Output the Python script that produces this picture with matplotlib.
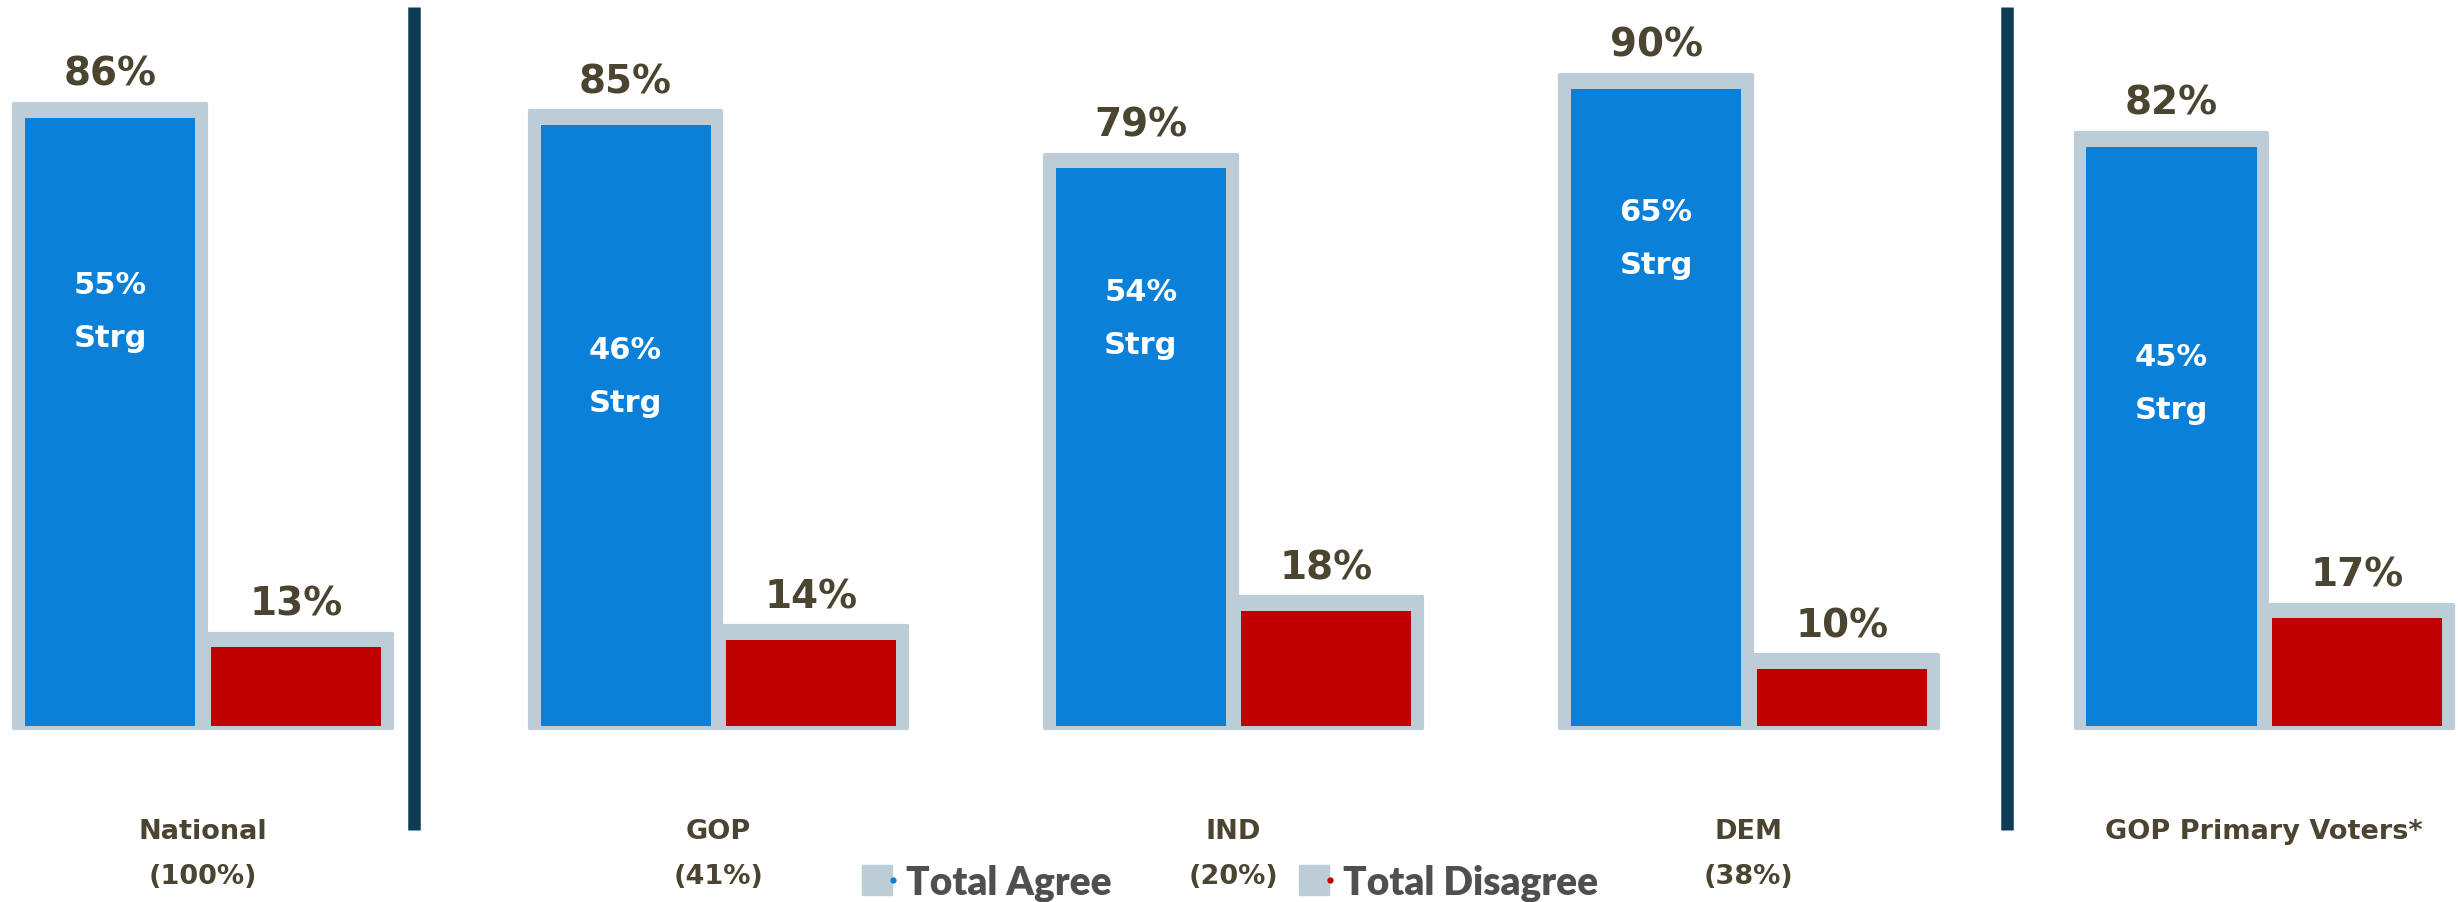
import matplotlib.pyplot as plt
from matplotlib.lines import Line2D
from matplotlib.legend_handler import HandlerTuple
import numpy as np

# Data
groups = ['National\n(100%)', 'GOP\n(41%)', 'IND\n(20%)', 'DEM\n(38%)', 'GOP Primary Voters*']
agree = [86, 85, 79, 90, 82]
disagree = [13, 14, 18, 10, 17]
strong_agree = [55, 46, 54, 65, 45]
dividers = [0.41, 3.5]

# Colors
blue = '#0b80d9'
red = '#c00000'
frame = '#bccdd8'
navy = '#0d3b56'
label_col = '#4a4430'

x = np.arange(len(groups))
off = 0.18
w_out = 0.372
w_in = 0.33
top_pad = 1.9
bot_pad = 0.3

fig = plt.figure(figsize=(24.58, 9.03), dpi=100)
ax = fig.add_axes([0, 0, 1, 1])
ax.set_xlim(-0.394, 4.376)
ax.set_ylim(-23.97, 100.43)
ax.axis('off')

# gray frames behind (slightly rounded corners)
ax.bar(x - off, agree, width=w_out, color=frame, edgecolor=frame, linewidth=3,
       joinstyle='round', zorder=1)
ax.bar(x + off, disagree, width=w_out, color=frame, edgecolor=frame, linewidth=3,
       joinstyle='round', zorder=1)
# colored inner bars
ax.bar(x - off, np.array(agree) - top_pad - bot_pad, bottom=bot_pad, width=w_in, color=blue, zorder=2)
ax.bar(x + off, np.array(disagree) - top_pad - bot_pad, bottom=bot_pad, width=w_in, color=red, zorder=2)

for i in range(len(groups)):
    ax.text(x[i] - off, agree[i] + 2.6, f'{agree[i]}%', ha='center', va='baseline',
            fontsize=28, fontweight='bold', color=label_col, zorder=3)
    ax.text(x[i] + off, disagree[i] + 2.6, f'{disagree[i]}%', ha='center', va='baseline',
            fontsize=28, fontweight='bold', color=label_col, zorder=3)
    ax.text(x[i] - off, strong_agree[i] + 2.5, f'{strong_agree[i]}%\nStrg', ha='center', va='center',
            fontsize=22, fontweight='bold', color='white', linespacing=2.05, zorder=3)
    ax.text(x[i], -12.4, groups[i], ha='center', va='top', fontsize=19.5, fontweight='bold',
            color=label_col, linespacing=1.95)

for d in dividers:
    ax.plot([d, d], [-14.0, 99.35], color=navy, linewidth=9, solid_capstyle='butt')

# legend
sq1 = Line2D([], [], marker='s', linestyle='none', markersize=22, color=frame)
dot1 = Line2D([], [], marker='o', linestyle='none', markersize=3.5, color=blue)
sq2 = Line2D([], [], marker='s', linestyle='none', markersize=22, color=frame)
dot2 = Line2D([], [], marker='o', linestyle='none', markersize=3.5, color=red)
leg = fig.legend([(sq1, dot1), (sq2, dot2)], ['Total Agree', 'Total Disagree'],
                 handler_map={tuple: HandlerTuple(ndivide=None, pad=0)},
                 loc='center', bbox_to_anchor=(0.502, 0.022), ncol=2, frameon=False,
                 prop={'family': 'Lato', 'weight': 'heavy', 'size': 28},
                 handlelength=0.8, handletextpad=0.15, columnspacing=5.0)
for t in leg.get_texts():
    t.set_color('#4f4f4f')

fig.savefig('out.png', dpi=100)
